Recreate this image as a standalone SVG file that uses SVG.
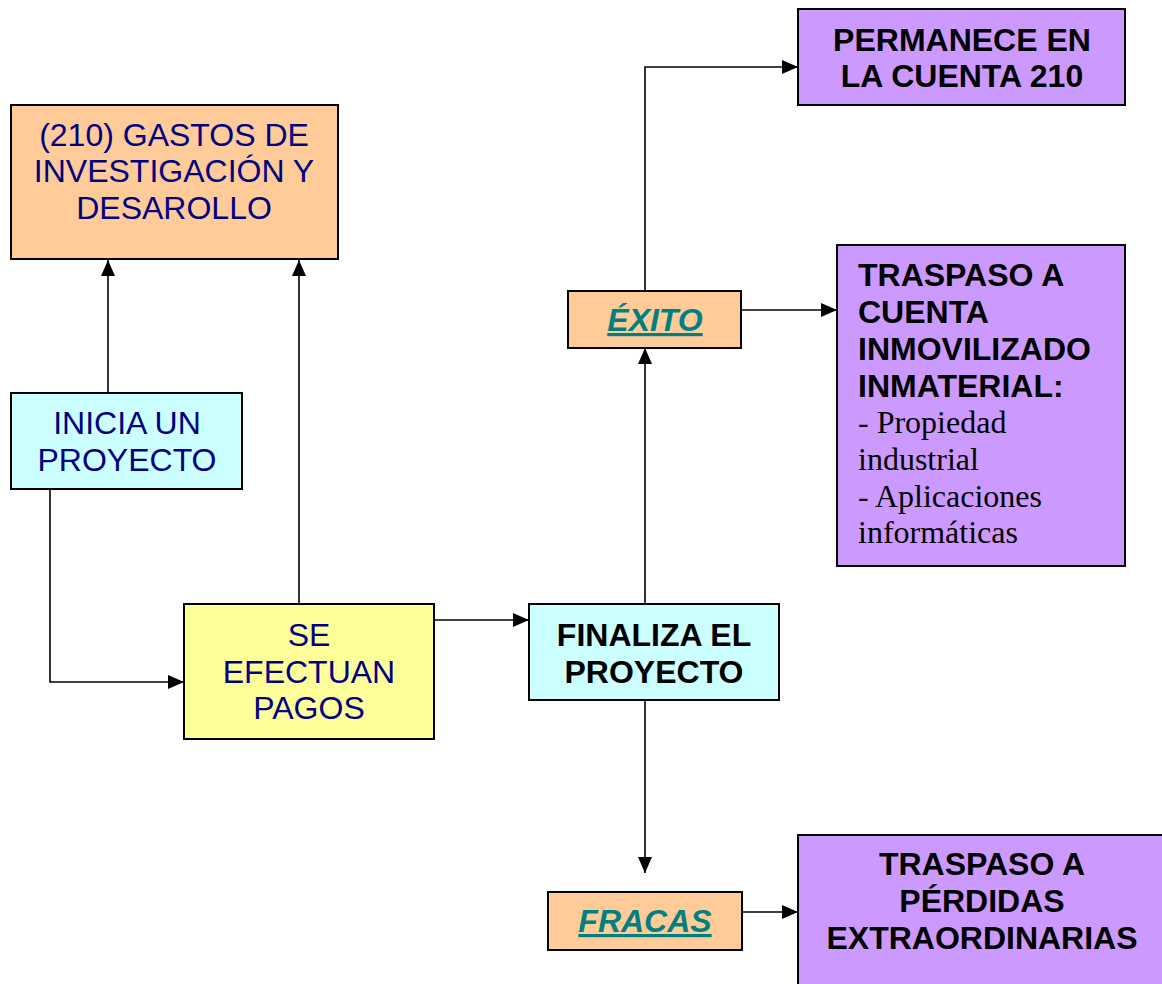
<svg xmlns="http://www.w3.org/2000/svg" width="1162" height="984" viewBox="0 0 1162 984">
<style>
.box{stroke:#000;stroke-width:2}
.orange{fill:#FFCC99}
.cyan{fill:#CCFFFF}
.yellow{fill:#FFFF99}
.purple{fill:#CC99FF}
.reg{font-family:"Liberation Sans",Arial,sans-serif;font-size:32px;fill:#000080;text-anchor:middle}
.bold{font-family:"Liberation Sans",Arial,sans-serif;font-size:32px;font-weight:bold;fill:#000;text-anchor:middle}
.boldl{font-family:"Liberation Sans",Arial,sans-serif;font-size:32px;font-weight:bold;fill:#000}
.serif{font-family:"Liberation Serif","Times New Roman",serif;font-size:32px;fill:#000}
.link{font-family:"Liberation Sans",Arial,sans-serif;font-size:32px;font-weight:bold;font-style:italic;fill:#008080;text-anchor:middle;text-decoration:underline}
.conn{fill:none;stroke:#000;stroke-width:1.6}
</style>
<defs>
<marker id="arr" markerUnits="userSpaceOnUse" markerWidth="16" markerHeight="14" refX="16" refY="7" orient="auto">
<path d="M0,0 L16,7 L0,14 z" fill="#000"/>
</marker>
</defs>
<g id="connectors">
<path class="conn" d="M108,393 V260" marker-end="url(#arr)"/>
<path class="conn" d="M299,604 V260" marker-end="url(#arr)"/>
<path class="conn" d="M50,489 V682 H184" marker-end="url(#arr)"/>
<path class="conn" d="M434,620 H529" marker-end="url(#arr)"/>
<path class="conn" d="M645,604 V348" marker-end="url(#arr)"/>
<path class="conn" d="M645,291 V67 H798" marker-end="url(#arr)"/>
<path class="conn" d="M741,310 H837" marker-end="url(#arr)"/>
<path class="conn" d="M645,700 V873" marker-end="url(#arr)"/>
<path class="conn" d="M742,912 H798" marker-end="url(#arr)"/>
</g>
<g id="gastos">
<rect class="box orange" x="11" y="105" width="327" height="154"/>
<text class="reg" x="174" y="146">(210) GASTOS DE</text>
<text class="reg" x="174" y="182">INVESTIGACIÓN Y</text>
<text class="reg" x="174" y="219">DESAROLLO</text>
</g>
<g id="inicia">
<rect class="box cyan" x="11" y="393" width="231" height="96"/>
<text class="reg" x="127" y="434">INICIA UN</text>
<text class="reg" x="127" y="471">PROYECTO</text>
</g>
<g id="pagos">
<rect class="box yellow" x="184" y="604" width="250" height="135"/>
<text class="reg" x="309" y="646">SE</text>
<text class="reg" x="309" y="683">EFECTUAN</text>
<text class="reg" x="309" y="719">PAGOS</text>
</g>
<g id="finaliza">
<rect class="box cyan" x="529" y="604" width="250" height="96"/>
<text class="bold" x="654" y="646">FINALIZA EL</text>
<text class="bold" x="654" y="683">PROYECTO</text>
</g>
<g id="exito">
<rect class="box orange" x="568" y="291" width="173" height="57"/>
<text class="link" x="655" y="331">ÉXITO</text>
</g>
<g id="fracas">
<rect class="box orange" x="548" y="892" width="194" height="58"/>
<text class="link" x="645" y="932">FRACAS</text>
</g>
<g id="permanece">
<rect class="box purple" x="798" y="9" width="327" height="96"/>
<text class="bold" x="962" y="51">PERMANECE EN</text>
<text class="bold" x="962" y="87">LA CUENTA 210</text>
</g>
<g id="traspaso-inmovilizado">
<rect class="box purple" x="837" y="245" width="288" height="321"/>
<text class="boldl" x="858" y="286">TRASPASO A</text>
<text class="boldl" x="858" y="323">CUENTA</text>
<text class="boldl" x="858" y="360">INMOVILIZADO</text>
<text class="boldl" x="858" y="397">INMATERIAL:</text>
<text class="serif" x="858" y="433">- Propiedad</text>
<text class="serif" x="858" y="470">industrial</text>
<text class="serif" x="858" y="507">- Aplicaciones</text>
<text class="serif" x="858" y="543">informáticas</text>
</g>
<g id="traspaso-perdidas">
<rect class="box purple" x="798" y="835" width="380" height="160"/>
<text class="bold" x="982" y="875">TRASPASO A</text>
<text class="bold" x="982" y="912">PÉRDIDAS</text>
<text class="bold" x="982" y="949">EXTRAORDINARIAS</text>
</g>
</svg>
